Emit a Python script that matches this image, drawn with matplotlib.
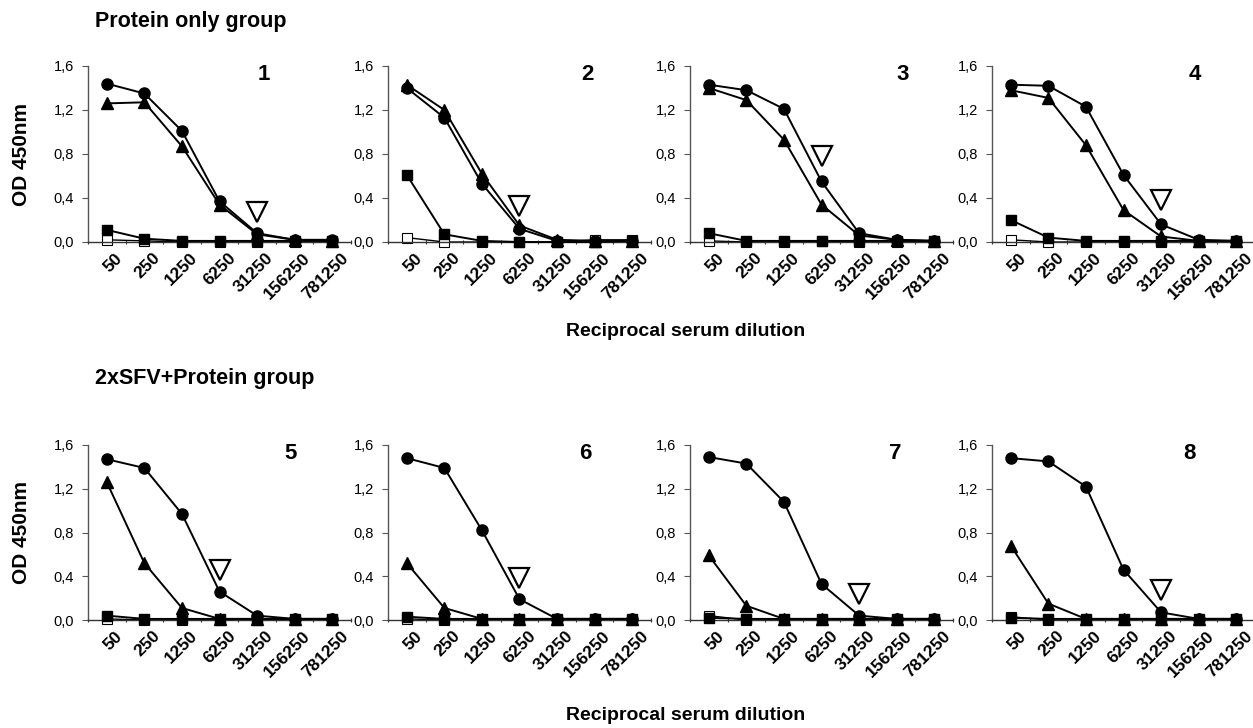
import matplotlib
matplotlib.use("Agg")
import matplotlib.pyplot as plt
import matplotlib.transforms as mtransforms
import numpy as np

dilutions = ["50", "250", "1250", "6250", "31250", "156250", "781250"]
panel_ids = ["1", "2", "3", "4", "5", "6", "7", "8"]
group_titles = ["Protein only group", "2xSFV+Protein group"]
x_title = "Reciprocal serum dilution"
y_title = "OD 450nm"

circles = [
    [1.44, 1.35, 1.01, 0.37, 0.08, 0.02, 0.02],
    [1.40, 1.13, 0.53, 0.12, 0.01, 0.01, 0.01],
    [1.43, 1.38, 1.21, 0.55, 0.08, 0.02, 0.01],
    [1.43, 1.42, 1.23, 0.61, 0.16, 0.02, 0.01],
    [1.47, 1.39, 0.97, 0.26, 0.04, 0.01, 0.01],
    [1.48, 1.39, 0.82, 0.19, 0.01, 0.01, 0.01],
    [1.49, 1.43, 1.08, 0.33, 0.04, 0.01, 0.01],
    [1.48, 1.45, 1.22, 0.46, 0.07, 0.01, 0.01],
]
triangles = [
    [1.26, 1.27, 0.87, 0.34, 0.07, 0.02, 0.01],
    [1.43, 1.20, 0.62, 0.15, 0.02, 0.01, 0.01],
    [1.40, 1.29, 0.93, 0.34, 0.06, 0.02, 0.01],
    [1.38, 1.31, 0.88, 0.29, 0.05, 0.01, 0.01],
    [1.26, 0.52, 0.11, 0.01, 0.01, 0.01, 0.01],
    [0.52, 0.11, 0.01, 0.01, 0.01, 0.01, 0.01],
    [0.59, 0.13, 0.01, 0.01, 0.01, 0.01, 0.01],
    [0.68, 0.15, 0.01, 0.01, 0.01, 0.01, 0.01],
]
filled_squares = [
    [0.11, 0.03, 0.01, 0.01, 0.01, 0.01, 0.01],
    [0.61, 0.07, 0.01, 0.00, 0.00, 0.00, 0.01],
    [0.08, 0.01, 0.01, 0.01, 0.01, 0.01, 0.01],
    [0.20, 0.04, 0.01, 0.01, 0.01, 0.01, 0.01],
    [0.04, 0.01, 0.01, 0.01, 0.01, 0.01, 0.01],
    [0.03, 0.01, 0.01, 0.01, 0.01, 0.01, 0.01],
    [0.02, 0.01, 0.01, 0.01, 0.01, 0.01, 0.01],
    [0.02, 0.01, 0.01, 0.01, 0.01, 0.01, 0.01],
]
open_squares = [
    [0.02, 0.01, 0.00, 0.00, 0.00, 0.00, 0.00],
    [0.04, 0.00, 0.00, 0.00, 0.00, 0.02, 0.02],
    [0.01, 0.00, 0.00, 0.01, 0.00, 0.00, 0.00],
    [0.02, 0.00, 0.00, 0.00, 0.00, 0.00, 0.00],
    [0.01, 0.00, 0.00, 0.00, 0.00, 0.00, 0.00],
    [0.01, 0.00, 0.00, 0.00, 0.00, 0.00, 0.00],
    [0.04, 0.00, 0.00, 0.00, 0.00, 0.00, 0.00],
    [0.03, 0.00, 0.00, 0.00, 0.00, 0.00, 0.00],
]
# titer marker (open down-triangle): dilution index and height
titer_index = [4, 3, 3, 4, 3, 3, 4, 4]
titer_value = [0.27, 0.33, 0.78, 0.38, 0.46, 0.38, 0.24, 0.27]

yticks = [0.0, 0.4, 0.8, 1.2, 1.6]
ytick_labels = ["0,0", "0,4", "0,8", "1,2", "1,6"]

# layout (style)
W, H = 1253, 728
fig = plt.figure(figsize=(W / 100, H / 100), dpi=100)
ax_left_px = [88, 388, 690, 992]
ax_width_px = 263
row_top_px = [66, 445]
row_bot_px = [242, 620]
label_xfrac = [0.67, 0.76, 0.81, 0.77, 0.77, 0.75, 0.78, 0.75]
FONT = "Liberation Sans"

x = np.arange(len(dilutions))
for p in range(8):
    r, c = divmod(p, 4)
    left = ax_left_px[c] / W
    bottom = 1 - row_bot_px[r] / H
    height = (row_bot_px[r] - row_top_px[r]) / H
    ax = fig.add_axes([left, bottom, ax_width_px / W, height])
    ax.set_xlim(-0.5, len(dilutions) - 0.5)
    ax.set_ylim(0, 1.6)
    ax.plot(x, open_squares[p], color="black", lw=1.0, marker="s", ms=6.5,
            mfc="white", mec="black", mew=0.8, zorder=2, clip_on=False)
    ax.plot(x, filled_squares[p], color="black", lw=1.4, marker="s", ms=7,
            mfc="black", mec="black", zorder=3, clip_on=False)
    ax.plot(x, triangles[p], color="black", lw=1.4, marker="^", ms=8,
            mfc="black", mec="black", zorder=4, clip_on=False)
    ax.plot(x, circles[p], color="black", lw=1.4, marker="o", ms=8,
            mfc="black", mec="black", zorder=5, clip_on=False)
    ax.plot([x[titer_index[p]]], [titer_value[p]], marker="v", ms=14,
            mfc="white", mec="black", mew=1.6, ls="none", zorder=6)
    ax.text(label_xfrac[p], 0.95, panel_ids[p], transform=ax.transAxes,
            fontsize=16, fontweight="bold", ha="center", va="center",
            family=FONT)

    for s in ["top", "right"]:
        ax.spines[s].set_visible(False)
    ax.spines["left"].set_linestyle((0, (1, 1)))
    ax.spines["left"].set_color("#555555")
    ax.spines["left"].set_linewidth(1.0)
    ax.spines["bottom"].set_color("#333333")
    ax.spines["bottom"].set_linewidth(1.0)

    ax.set_yticks(yticks)
    ax.set_yticklabels(ytick_labels, fontsize=10.5, family=FONT)
    ax.tick_params(axis="y", length=4, width=0.8, color="#555555", pad=6)
    ax.set_xticks(x)
    ax.set_xticklabels(dilutions, rotation=45, ha="right", va="top",
                       rotation_mode="anchor", fontsize=12.5,
                       fontweight="bold", family=FONT)
    ax.tick_params(axis="x", length=0, pad=6)
    ax.set_xticks(np.arange(-0.5, len(dilutions)), minor=True)
    ax.tick_params(axis="x", which="minor", length=3, width=0.8,
                   direction="inout", color="#333333")
    for lab in ax.get_xticklabels():
        lab.set_transform(lab.get_transform() +
                          mtransforms.ScaledTranslation(6 / 72, 0, fig.dpi_scale_trans))

    if c == 0:
        fig.text(22 / W, 1 - ((row_top_px[r] + row_bot_px[r]) / 2) / H, y_title,
                 rotation=90, ha="center", va="center", fontsize=15,
                 fontweight="bold", family=FONT)

fig.text(95 / W, 1 - 22 / H, group_titles[0], fontsize=15.5, fontweight="bold",
         family=FONT, ha="left", va="center")
fig.text(95 / W, 1 - 378 / H, group_titles[1], fontsize=15.5, fontweight="bold",
         family=FONT, ha="left", va="center")
fig.text(686 / W, 1 - 332 / H, x_title, fontsize=14, fontweight="bold",
         family=FONT, ha="center", va="center")
fig.text(686 / W, 1 - 716 / H, x_title, fontsize=14, fontweight="bold",
         family=FONT, ha="center", va="center")

fig.savefig("out.png", dpi=100)
